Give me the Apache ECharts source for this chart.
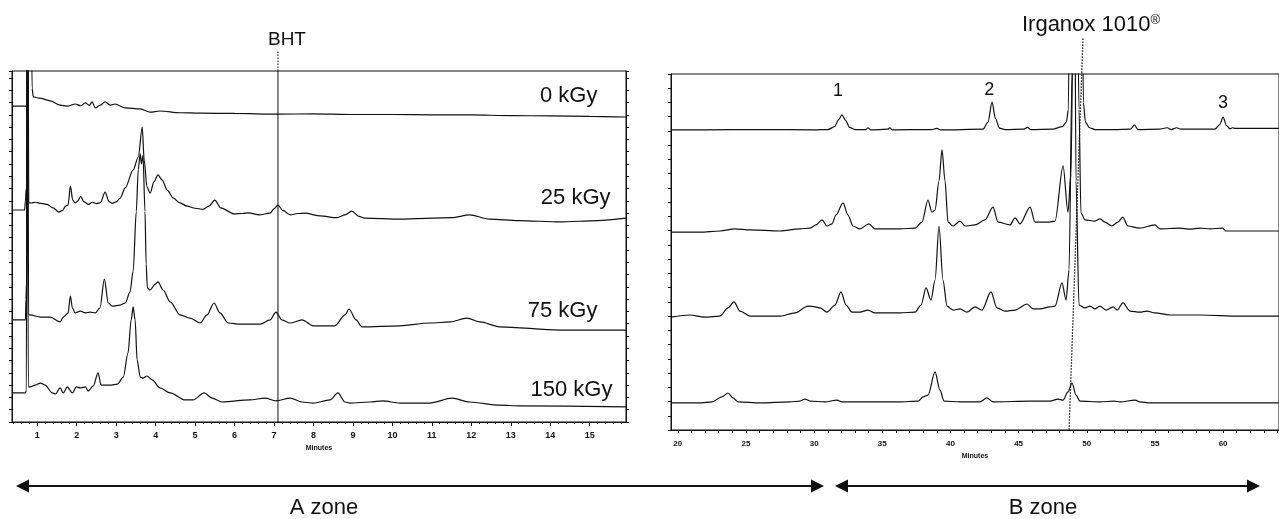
<!DOCTYPE html>
<html>
<head>
<meta charset="utf-8">
<title>Chromatograms A / B zone</title>
<script src="https://cdn.jsdelivr.net/npm/echarts@6/dist/echarts.min.js"></script>
<style>
  html, body { margin: 0; padding: 0; background: #fff; }
  #chart { width: 1279px; height: 519px; }
</style>
</head>
<body>
<div id="chart"></div>
<script>
// dose of each trace (top to bottom)
const doses = ["0 kGy", "25 kGy", "75 kGy", "150 kGy"];
// tick labels (minutes)
const ticksA = [1, 2, 3, 4, 5, 6, 7, 8, 9, 10, 11, 12, 13, 14, 15];
const ticksB = [20, 25, 30, 35, 40, 45, 50, 55, 60];
// named peaks of the 0 kGy trace in B zone
const peakNames = ["1", "2", "3"];
// retention times of the reference compounds
const bhtTime = 7.1;
const irganoxTimes = [49.72, 48.7]; // top of the label line, bottom of the axis

// A zone traces: [minutes, response]
const zoneA_0 = [[0.37,90.0],[0.71,90.0],[0.76,90.8],[0.79,130],[0.84,130],[0.87,95],[0.9,92.6],[1.05,92.3],[1.33,91.5],[1.58,90.3],[1.78,90.0],[1.96,90.6],[2.1,90.1],[2.22,90.9],[2.32,90.2],[2.39,91.2],[2.47,89.5],[2.6,90.3],[2.72,91.2],[2.85,90.3],[2.97,90.6],[3.23,89.5],[3.61,89.2],[3.86,88.3],[4.11,88.6],[4.62,88.1],[5.13,88.0],[6.0,87.9],[7.1,87.7],[8.0,87.8],[9.0,87.6],[10.0,87.6],[11.0,87.5],[12.0,87.5],[13.0,87.3],[14.0,87.2],[15.0,87.1],[15.92,86.9]];
const zoneA_25 = [[0.37,60.4],[0.68,60.4],[0.70,63.0],[0.72,66.5],[0.735,66],[0.745,125],[0.765,125],[0.785,62.5],[0.85,62.4],[0.95,62.6],[1.1,62.3],[1.25,62.0],[1.4,61.0],[1.55,59.8],[1.64,60.3],[1.72,61.5],[1.78,61.8],[1.84,67.2],[1.9,63.2],[1.96,62.4],[2.03,63.0],[2.1,64.3],[2.18,62.8],[2.3,62.0],[2.4,62.6],[2.5,62.2],[2.6,62.5],[2.72,65.5],[2.82,62.8],[2.9,62.3],[3.0,62.7],[3.1,63.8],[3.23,66.7],[3.43,71.8],[3.56,75.5],[3.66,84.0],[3.71,74.6],[3.78,67.0],[3.86,65.2],[3.96,68.5],[4.06,70.4],[4.16,69.0],[4.3,66.0],[4.45,63.8],[4.6,62.5],[4.8,61.5],[5.0,60.9],[5.2,60.6],[5.35,61.5],[5.5,63.2],[5.65,61.0],[5.99,59.3],[6.2,59.4],[6.35,59.6],[6.63,59.0],[6.9,59.5],[7.0,60.8],[7.1,61.8],[7.22,60.3],[7.41,59.0],[7.6,59.4],[7.79,59.5],[8.17,58.7],[8.6,58.2],[8.8,59.0],[8.97,60.1],[9.15,58.6],[9.3,58.1],[10.19,57.8],[11.5,58.2],[11.96,59.0],[12.46,57.8],[13.2,57.4],[14.24,57.0],[15.2,57.4],[15.92,58.1]];
const zoneA_75 = [[0.37,29.1],[0.70,29.1],[0.715,35],[0.73,40],[0.742,125],[0.76,125],[0.78,30.5],[0.82,30.5],[1.08,29.9],[1.33,29.9],[1.58,28.5],[1.66,29.9],[1.78,31.0],[1.84,35.9],[1.89,32.5],[1.96,31.1],[2.09,31.6],[2.22,31.1],[2.34,31.3],[2.47,31.1],[2.59,32.5],[2.70,40.7],[2.80,33.9],[2.90,33.0],[3.10,33.3],[3.23,33.9],[3.35,37.0],[3.43,43.0],[3.51,60],[3.56,72],[3.61,76.4],[3.64,73.5],[3.68,76],[3.73,60],[3.76,45],[3.79,38.2],[3.86,37.6],[3.99,39.3],[4.06,39.9],[4.19,37.6],[4.37,34.2],[4.62,30.5],[4.87,29.6],[5.13,28.2],[5.30,30.5],[5.48,33.9],[5.63,31.1],[5.84,28.2],[6.14,27.9],[6.65,27.9],[6.90,29.1],[7.05,31.3],[7.20,29.1],[7.41,28.2],[7.71,29.1],[7.99,27.4],[8.54,27.4],[8.80,30.5],[8.90,32.2],[9.08,29.1],[9.23,27.1],[10.19,27.4],[10.95,28.2],[11.46,28.5],[11.89,29.6],[12.22,28.5],[12.72,27.1],[14.24,26.2],[15.92,26.2]];
const zoneA_150 = [[0.37,8.3],[0.70,8.3],[0.725,9],[0.738,125],[0.755,125],[0.775,10.0],[0.82,10.0],[0.95,10.5],[1.08,11.1],[1.20,10.5],[1.38,8.3],[1.46,8.0],[1.58,9.7],[1.66,8.3],[1.76,10.0],[1.89,8.3],[1.99,10.0],[2.09,9.7],[2.22,10.0],[2.29,8.8],[2.42,10.3],[2.54,14.0],[2.62,10.5],[2.85,10.5],[3.03,10.8],[3.18,12.8],[3.30,19.7],[3.38,29.1],[3.43,32.8],[3.48,29.1],[3.53,17.7],[3.61,12.8],[3.68,12.5],[3.78,13.1],[3.91,12.0],[4.11,9.7],[4.37,8.3],[4.75,6.3],[4.95,6.3],[5.23,8.3],[5.43,6.8],[5.68,5.7],[6.39,6.3],[6.77,6.8],[7.05,6.0],[7.41,6.8],[7.71,5.7],[7.99,5.4],[8.42,6.3],[8.62,8.3],[8.80,5.7],[8.92,5.4],[9.43,5.7],[9.76,6.0],[10.19,5.4],[10.95,5.4],[11.51,6.8],[11.96,5.7],[12.72,4.8],[13.23,4.6],[15.92,4.3]];

// B zone traces: [minutes, response]
const zoneB_0 = [[19.5,84.3],[22,84.3],[26,84.4],[30,84.3],[31.0,84.4],[31.5,85.2],[31.8,87.2],[32.04,88.5],[32.3,87.0],[32.6,85.0],[33.0,84.4],[33.8,84.4],[33.95,84.9],[34.15,84.3],[35.4,84.5],[35.55,84.9],[35.75,84.3],[38.6,84.4],[39.0,84.7],[39.3,84.3],[42.4,84.5],[42.75,86.5],[43.05,92.1],[43.3,87.5],[43.6,84.8],[44.0,84.4],[45.4,84.5],[45.65,85.0],[45.9,84.4],[47.5,84.5],[48.2,85.2],[48.5,86.5],[48.65,90],[48.75,140],[49.65,140],[49.75,92],[49.9,86.5],[50.2,84.9],[50.6,84.4],[52.0,84.4],[53.2,84.5],[53.5,85.7],[53.75,84.4],[55.3,84.5],[55.9,84.9],[56.2,84.4],[56.6,84.9],[56.9,84.5],[59.4,84.5],[59.75,85.8],[60.0,87.9],[60.25,85.5],[60.5,84.6],[60.7,84.9],[60.9,84.7],[64.1,84.7]];
const zoneB_25 = [[19.5,55.6],[21.63,55.6],[23.09,55.9],[24.19,56.5],[25.30,56.2],[27.50,55.9],[28.96,56.5],[29.70,56.7],[30.14,57.6],[30.58,59.0],[30.94,57.3],[31.31,57.9],[31.60,60.4],[32.12,63.8],[32.48,60.4],[32.85,57.3],[33.36,56.5],[34.02,57.9],[34.46,56.5],[35.42,56.5],[36.30,56.5],[37.40,56.7],[37.91,58.4],[38.35,64.6],[38.64,61.2],[38.87,61.8],[39.16,70],[39.38,78.7],[39.60,70],[39.82,58.4],[40.19,57.3],[40.70,58.7],[41.07,57.3],[41.80,57.6],[42.53,59.0],[43.12,62.6],[43.49,58.4],[44.37,57.6],[44.74,59.6],[45.10,57.9],[45.84,62.6],[46.20,58.4],[47.16,58.4],[47.67,58.7],[48.26,74.2],[48.62,61.2],[48.84,72],[49.06,140],[49.28,140],[49.43,90],[49.57,61],[49.87,59.0],[50.60,58.7],[50.96,59.3],[51.33,58.4],[51.84,57.3],[52.28,58.4],[52.64,59.8],[53.01,57.3],[53.89,56.7],[54.99,57.6],[55.36,56.5],[56.83,56.7],[57.56,56.4],[58.30,56.7],[59.03,56.5],[59.98,56.7],[60.20,55.9],[64.1,55.9]];
const zoneB_75 = [[19.5,31.7],[20.89,32.3],[21.99,31.7],[23.09,32.0],[23.68,34.3],[24.12,36.0],[24.56,33.4],[25.30,32.0],[27.50,32.0],[28.60,32.9],[29.55,34.8],[30.06,34.6],[30.43,34.3],[30.94,33.1],[31.53,35.1],[31.97,38.8],[32.34,35.1],[32.78,33.1],[33.36,33.1],[33.95,33.7],[34.46,32.9],[36.30,32.9],[37.40,33.1],[37.84,35.1],[38.21,39.9],[38.57,36.5],[38.87,42.1],[39.16,57.3],[39.45,42.1],[39.75,34.8],[40.19,33.7],[40.70,34.0],[41.21,33.1],[41.80,34.6],[42.31,33.7],[42.97,38.8],[43.41,34.3],[44.0,33.4],[44.74,33.7],[45.62,35.4],[46.06,34.0],[46.57,34.0],[47.30,34.6],[47.67,34.8],[48.18,41.3],[48.48,36.5],[48.70,45],[48.92,100],[49.0,140],[49.1,140],[49.21,70],[49.43,35.1],[49.87,34.3],[50.24,34.8],[50.60,34.0],[50.97,34.8],[51.41,33.7],[51.93,34.6],[52.22,33.7],[52.66,35.7],[53.17,33.4],[53.90,33.1],[54.41,33.4],[54.99,32.9],[56.09,32.3],[58.30,32.3],[61.23,32.0],[64.1,32.0]];
const zoneB_150 = [[19.5,7.6],[21.63,7.6],[22.5,7.9],[23.24,9.3],[23.68,10.4],[24.05,9.0],[24.41,7.9],[26.03,7.6],[28.23,7.9],[28.96,8.1],[29.33,8.7],[29.70,8.1],[30.79,7.9],[31.67,8.4],[32.04,7.9],[33.36,7.9],[36.30,7.9],[37.62,8.1],[37.99,9.3],[38.35,9.8],[38.87,16.3],[39.23,11.2],[39.53,8.1],[40.70,7.9],[42.16,7.9],[42.67,9.0],[43.12,7.9],[45.84,8.1],[47.30,8.1],[47.89,8.7],[48.26,8.4],[48.62,10.7],[48.92,13.2],[49.21,9.8],[49.50,8.1],[50.97,7.9],[52.0,8.1],[52.44,7.9],[53.54,8.4],[53.90,7.9],[54.64,7.6],[64.1,7.6]];

const ink = "#111";
const font = "Liberation Sans, Arial, sans-serif";

// small ticks: every 0.2 min in A zone, every minute in B zone
let minorA = [];
for (let i = 2; i <= 79; i++) minorA.push(Math.round(i * 2) / 10);
let minorB = [];
for (let m = 20; m <= 64; m++) minorB.push(m);

function trace(data, axis) {
  return {
    type: "line",
    data: data,
    xAxisIndex: axis,
    yAxisIndex: axis,
    symbol: "none",
    smooth: 0.3,
    smoothMonotone: "x",
    clip: true,
    silent: true,
    lineStyle: { color: ink, width: 1.2 },
  };
}

// text label pinned to a data point
function tag(items, position, size) {
  return {
    symbol: "circle",
    symbolSize: 1,
    silent: true,
    itemStyle: { color: "rgba(0,0,0,0)" },
    label: { show: true, position: position, distance: 0, formatter: "{b}", color: ink, fontSize: size, fontFamily: font },
    data: items,
  };
}

function yAxis(grid, pos, step) {
  return {
    type: "value", gridIndex: grid, position: pos, min: 0, max: 100, interval: step,
    axisLine: { show: true, lineStyle: { color: ink } },
    axisTick: { show: true, length: 3, lineStyle: { color: ink } },
    axisLabel: { show: false },
    splitLine: { show: false },
  };
}

let myecharts = echarts.init(document.getElementById("chart"));

let seriesA = [zoneA_0, zoneA_25, zoneA_75, zoneA_150].map((d) => trace(d, 0));
let seriesB = [zoneB_0, zoneB_25, zoneB_75, zoneB_150].map((d) => trace(d, 2));
// dose names at the right end of each A zone trace
seriesA[0].markPoint = tag([{ name: doses[0], coord: [15.21, 92.9] }], "left", 22);
seriesA[1].markPoint = tag([{ name: doses[1], coord: [15.54, 63.8] }], "left", 22);
seriesA[2].markPoint = tag([{ name: doses[2], coord: [15.21, 31.6] }], "left", 22);
seriesA[3].markPoint = tag([{ name: doses[3], coord: [15.59, 9.1] }], "left", 22);
// peak numbers above the 0 kGy trace
seriesB[0].markPoint = tag([
  { name: peakNames[0], coord: [31.75, 95.3] },
  { name: peakNames[1], coord: [42.85, 95.5] },
  { name: peakNames[2], coord: [60.0, 91.9] },
], "inside", 18);

myecharts.setOption({
  animation: false,
  backgroundColor: "#fff",
  textStyle: { fontFamily: font },
  grid: [
    { left: 12, top: 71, width: 614, height: 351, show: true, borderColor: ink, borderWidth: 1 },
    { left: 671, top: 74, right: 0, height: 356, show: true, borderColor: ink, borderWidth: 1 },
  ],
  xAxis: [
    {
      type: "value", gridIndex: 0, position: "bottom", min: 0.36, max: 15.92,
      axisLine: { onZero: false, lineStyle: { color: ink } },
      axisTick: { customValues: ticksA, length: 4, lineStyle: { color: ink } },
      axisLabel: { customValues: ticksA, color: ink, fontSize: 9, fontWeight: "bold", margin: 9 },
      splitLine: { show: false },
      name: "Minutes", nameLocation: "middle", nameGap: 23,
      nameTextStyle: { fontSize: 7, fontWeight: "bold", color: ink },
    },
    {
      // minor ticks of A zone, on the same bottom line
      type: "value", gridIndex: 0, position: "bottom", offset: 0, min: 0.36, max: 15.92,
      axisLine: { show: false, onZero: false },
      axisTick: { customValues: minorA, length: 2, lineStyle: { color: ink } },
      axisLabel: { show: false },
      splitLine: { show: false },
    },
    {
      type: "value", gridIndex: 1, position: "bottom", min: 19.5, max: 64.1,
      axisLine: { onZero: false, lineStyle: { color: ink } },
      axisTick: { customValues: minorB, length: 3, lineStyle: { color: ink } },
      axisLabel: { customValues: ticksB, color: ink, fontSize: 8, fontWeight: "bold", margin: 10 },
      splitLine: { show: false },
      name: "Minutes", nameLocation: "middle", nameGap: 20,
      nameTextStyle: { fontSize: 7, fontWeight: "bold", color: ink },
    },
  ],
  yAxis: [yAxis(0, "left", 3.5), yAxis(0, "right", 3.5), yAxis(1, "left", 4)],
  series: seriesA.concat(seriesB),
});

// reference lines and zone arrows
let bhtLow = myecharts.convertToPixel({ seriesIndex: 0 }, [bhtTime, 0]);
let bhtTop = myecharts.convertToPixel({ seriesIndex: 0 }, [bhtTime, 100]);
let bhtTip = myecharts.convertToPixel({ seriesIndex: 0 }, [bhtTime, 106]);
let irgTip = myecharts.convertToPixel({ seriesIndex: 4 }, [irganoxTimes[0], 110]);
let irgLow = myecharts.convertToPixel({ seriesIndex: 4 }, [irganoxTimes[1], 0]);

function arrow(x1, x2, y) {
  return [
    { type: "line", shape: { x1: x1 + 8, y1: y, x2: x2 - 8, y2: y }, style: { stroke: ink, lineWidth: 2 } },
    { type: "polygon", shape: { points: [[x1, y], [x1 + 13, y - 6.5], [x1 + 13, y + 6.5]] }, style: { fill: ink } },
    { type: "polygon", shape: { points: [[x2, y], [x2 - 13, y - 6.5], [x2 - 13, y + 6.5]] }, style: { fill: ink } },
  ];
}

let graphics = [
  { type: "line", shape: { x1: bhtLow[0], y1: bhtLow[1], x2: bhtTop[0], y2: bhtTop[1] }, style: { stroke: ink, lineWidth: 1 } },
  { type: "line", shape: { x1: bhtTop[0], y1: bhtTop[1], x2: bhtTip[0], y2: bhtTip[1] }, style: { stroke: ink, lineWidth: 1, lineDash: [1.5, 1.5] } },
  { type: "text", x: bhtTip[0] + 9, y: bhtTip[1] - 10, style: { text: "BHT", fill: ink, font: "19px " + font, align: "center", verticalAlign: "middle" } },
  { type: "line", shape: { x1: irgTip[0], y1: irgTip[1], x2: irgLow[0], y2: irgLow[1] }, style: { stroke: ink, lineWidth: 1.3, lineDash: [1.5, 1.5] } },
  {
    type: "text", x: irgTip[0] + 8, y: irgTip[1] - 13,
    style: {
      text: "{a|Irganox 1010}{b|®}", fill: ink, align: "center", verticalAlign: "middle",
      rich: { a: { fontSize: 22, fontFamily: font, fill: ink }, b: { fontSize: 13, fontFamily: font, fill: ink, padding: [0, 0, 10, 0] } },
    },
  },
  { type: "text", x: 324, y: 508, style: { text: "A zone", fill: ink, font: "22px " + font, align: "center", verticalAlign: "middle" } },
  { type: "text", x: 1043, y: 508, style: { text: "B zone", fill: ink, font: "22px " + font, align: "center", verticalAlign: "middle" } },
].concat(arrow(16, 824, 486), arrow(835, 1260, 486));

myecharts.setOption({ graphic: graphics });
</script>
</body>
</html>
